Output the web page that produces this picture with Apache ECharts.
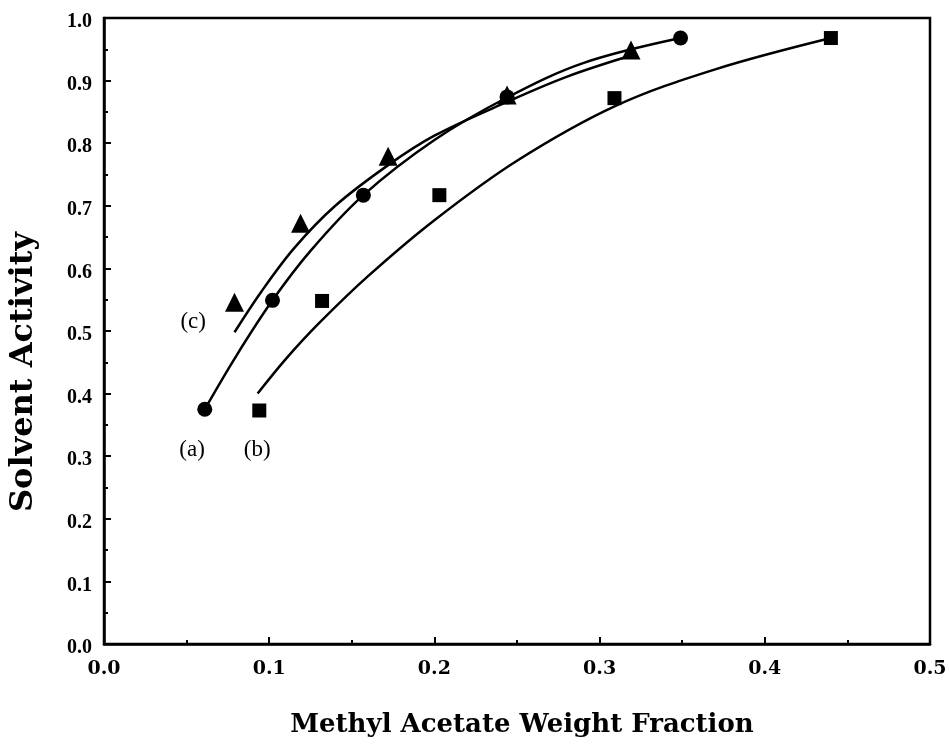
<!DOCTYPE html>
<html>
<head>
<meta charset="utf-8">
<script src="https://cdn.jsdelivr.net/npm/echarts@6/dist/echarts.min.js"></script>
<style>html,body{margin:0;padding:0;background:#fff}#c{width:950px;height:746px}</style>
</head>
<body>
<div id="c"></div>
<script>
// Data points (x = methyl acetate weight fraction, y = solvent activity)
const pointsA = [[0.061,0.375],[0.102,0.549],[0.157,0.717],[0.244,0.874],[0.349,0.968]];
const pointsB = [[0.094,0.373],[0.132,0.548],[0.203,0.717],[0.309,0.872],[0.440,0.968]];
const pointsC = [[0.079,0.546],[0.119,0.672],[0.172,0.779],[0.244,0.877],[0.319,0.949]];
// Fitted curves
const curveA = [[0.061,0.375],[0.080,0.460],[0.102,0.549],[0.125,0.628],[0.157,0.717],[0.200,0.805],[0.244,0.873],[0.290,0.928],[0.349,0.968]];
const curveB = [[0.093,0.400],[0.110,0.455],[0.130,0.512],[0.160,0.588],[0.200,0.677],[0.250,0.772],[0.310,0.860],[0.370,0.918],[0.440,0.968]];
const curveC = [[0.079,0.498],[0.095,0.562],[0.115,0.632],[0.140,0.700],[0.172,0.765],[0.200,0.812],[0.244,0.866],[0.280,0.906],[0.319,0.940]];
const curveLabels = [[0.0533,0.31,'(a)'],[0.0927,0.31,'(b)'],[0.054,0.514,'(c)']];
const xTitle = 'Methyl Acetate Weight Fraction';
const yTitle = 'Solvent Activity';

const serif = '"Liberation Serif","DejaVu Serif",serif';
const wide = '"DejaVu Serif",serif';
const chart = echarts.init(document.getElementById('c'));
const lineSeries = (d) => ({type:'line', data:d, showSymbol:false, symbol:'none', smooth:0.35, lineStyle:{color:'#000', width:2.5}, z:2, silent:true});
const scat = (d, sym, size) => ({type:'scatter', data:d, symbol:sym, symbolSize:size, itemStyle:{color:'#000', opacity:1}, z:3});
chart.setOption({
  animation:false,
  backgroundColor:'#fff',
  grid:{left:100, right:20, top:18, bottom:102, show:true, borderColor:'#000', borderWidth:2.5, backgroundColor:'transparent'},
  xAxis:{type:'value', min:0, max:0.5, interval:0.1,
    name:xTitle, nameLocation:'middle', nameGap:68,
    nameTextStyle:{fontFamily:wide, fontWeight:'bold', fontSize:26, color:'#000', padding:[0,0,0,10]},
    axisLine:{lineStyle:{color:'#000', width:2.5}},
    axisTick:{inside:true, length:7, lineStyle:{color:'#000', width:2}},
    minorTick:{show:true, splitNumber:2, length:4, lineStyle:{color:'#000', width:2}},
    splitLine:{show:false},
    axisLabel:{fontFamily:wide, fontWeight:'bold', fontSize:19, color:'#000', margin:16, formatter:v=>v.toFixed(1)}
  },
  yAxis:{type:'value', min:0, max:1, interval:0.1,
    name:yTitle, nameLocation:'middle', nameGap:64, nameRotate:90,
    nameTextStyle:{fontFamily:wide, fontWeight:'bold', fontSize:32, color:'#000', padding:[0,82,0,0]},
    axisLine:{lineStyle:{color:'#000', width:2.5}},
    axisTick:{inside:true, length:7, lineStyle:{color:'#000', width:2}},
    minorTick:{show:true, splitNumber:2, length:4, lineStyle:{color:'#000', width:2}},
    splitLine:{show:false},
    axisLabel:{fontFamily:serif, fontWeight:'bold', fontSize:20, color:'#000', margin:12, verticalAlign:'top', lineHeight:8, formatter:v=>v.toFixed(1)}
  },
  series:[
    lineSeries(curveA), lineSeries(curveB), lineSeries(curveC),
    scat(pointsA,'circle',15), scat(pointsB,'rect',14), scat(pointsC,'triangle',19),
    {type:'scatter', data:curveLabels.map(d=>({value:[d[0],d[1]], name:d[2]})), symbolSize:0,
     itemStyle:{opacity:1},
     label:{show:true, position:'inside', formatter:p=>p.name, fontFamily:serif, fontSize:23, color:'#000'}, z:4}
  ]
});
</script>
</body>
</html>
